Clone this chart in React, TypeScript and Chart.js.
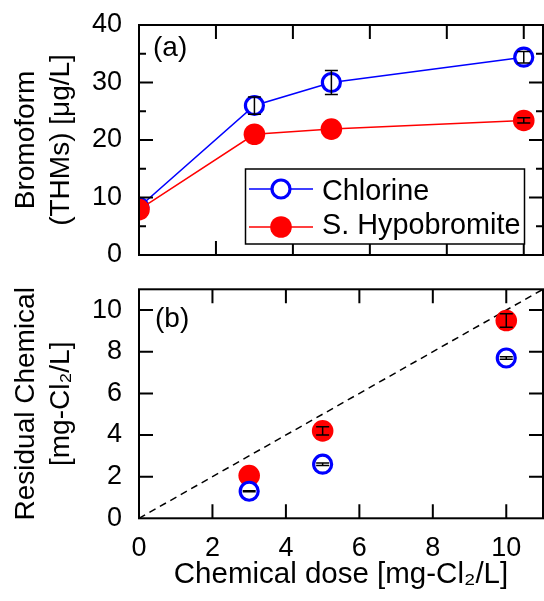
import React, { useEffect, useRef } from "react";
import { Chart, registerables } from "chart.js";

Chart.register(...registerables);

// ---------- data ----------
const seriesNames = ["Chlorine", "S. Hypobromite"];

const doseTHM = [0, 3, 5, 10];
const chlorineTHM = [8.3, 26, 30, 34.4];
const chlorineTHMErr = [0, 1.5, 2.1, 1.0];
const hypoTHM = [7.9, 21, 21.9, 23.4];
const hypoTHMErr = [0, 0, 0, 0.45];

const doseResidual = [3, 5, 10];
const chlorineResidual = [1.3, 2.6, 7.7];
const chlorineResidualErr = [0.02, 0.06, 0.06];
const hypoResidual = [2.05, 4.2, 9.5];
const hypoResidualErr = [0, 0.2, 0.32];

const oneToOne = [0, 11];

const xTicks = [0, 2, 4, 6, 8, 10];
const topYMajor = [0, 10, 20, 30, 40];
const topYMinor = [5, 15, 25, 35];
const bottomYTicks = [0, 2, 4, 6, 8, 10];

const topYTitle = ["Bromoform", "(THMs) [\u03bcg/L]"];
const bottomYTitle = ["Residual Chemical", "[mg-Cl\u2082/L]"];
const xTitle = "Chemical dose [mg-Cl\u2082/L]";

// ---------- styling ----------
const FONT = '"Liberation Sans", Arial, Helvetica, sans-serif';
const BLUE = "#0000ff";
const RED = "#ff0000";

type DecorCfg = {
  xMajor: number[];
  yMajor: number[];
  yMinor: number[];
  label: string;
  labelX: number;
  labelY: number;
  legend: boolean;
};

function makeDecor(cfg: DecorCfg) {
  return {
    id: "decor",
    afterDatasetsDraw(chart: any) {
      const ctx = chart.ctx as CanvasRenderingContext2D;
      const xs = chart.scales.x;
      const ys = chart.scales.y;
      const left = xs.left, right = xs.right, top = ys.top, bottom = ys.bottom;
      ctx.save();

      // error bars
      ctx.strokeStyle = "#000";
      ctx.lineWidth = 1.5;
      chart.data.datasets.forEach((ds: any, i: number) => {
        const errs = ds.errors;
        if (!errs) return;
        const meta = chart.getDatasetMeta(i);
        ds.data.forEach((p: any, j: number) => {
          const e = errs[j];
          if (!e) return;
          const x = meta.data[j].x;
          const y1 = ys.getPixelForValue(p.y - e);
          const y2 = ys.getPixelForValue(p.y + e);
          const c = 6.5;
          ctx.beginPath();
          ctx.moveTo(x, y1);
          ctx.lineTo(x, y2);
          ctx.moveTo(x - c, y1);
          ctx.lineTo(x + c, y1);
          ctx.moveTo(x - c, y2);
          ctx.lineTo(x + c, y2);
          ctx.stroke();
        });
      });

      // inner ticks
      ctx.strokeStyle = "#000";
      ctx.lineWidth = 2;
      const major = 14;
      const minor = 7;
      ctx.beginPath();
      cfg.xMajor.forEach((v) => {
        const px = xs.getPixelForValue(v);
        if (px <= left + 1 || px >= right - 1) return;
        ctx.moveTo(px, bottom);
        ctx.lineTo(px, bottom - major);
        ctx.moveTo(px, top);
        ctx.lineTo(px, top + major);
      });
      cfg.yMajor.forEach((v) => {
        const py = ys.getPixelForValue(v);
        if (py <= top + 1 || py >= bottom - 1) return;
        ctx.moveTo(left, py);
        ctx.lineTo(left + major, py);
        ctx.moveTo(right, py);
        ctx.lineTo(right - major, py);
      });
      cfg.yMinor.forEach((v) => {
        const py = ys.getPixelForValue(v);
        ctx.moveTo(left, py);
        ctx.lineTo(left + minor, py);
        ctx.moveTo(right, py);
        ctx.lineTo(right - minor, py);
      });
      ctx.stroke();

      // frame
      ctx.strokeRect(left, top, right - left, bottom - top);

      // panel label
      ctx.fillStyle = "#000";
      ctx.font = `28px ${FONT}`;
      ctx.textBaseline = "alphabetic";
      ctx.textAlign = "left";
      ctx.fillText(cfg.label, cfg.labelX, cfg.labelY);

      // legend
      if (cfg.legend) {
        const bx = 245.5, by = 169, bw = 279, bh = 75;
        ctx.fillStyle = "#fff";
        ctx.fillRect(bx, by, bw, bh);
        ctx.strokeStyle = "#000";
        ctx.lineWidth = 1.5;
        ctx.strokeRect(bx, by, bw, bh);
        const rows = [
          { name: seriesNames[0], color: BLUE, open: true, y: 189, base: 199.5 },
          { name: seriesNames[1], color: RED, open: false, y: 227, base: 234 },
        ];
        rows.forEach((r) => {
          ctx.strokeStyle = r.color;
          ctx.lineWidth = 1.5;
          ctx.beginPath();
          ctx.moveTo(249, r.y);
          ctx.lineTo(313, r.y);
          ctx.stroke();
          ctx.beginPath();
          if (r.open) {
            ctx.arc(281, r.y, 9, 0, Math.PI * 2);
            ctx.fillStyle = "#fff";
            ctx.fill();
            ctx.lineWidth = 3.2;
            ctx.stroke();
          } else {
            ctx.arc(281, r.y, 10.8, 0, Math.PI * 2);
            ctx.fillStyle = r.color;
            ctx.fill();
          }
          ctx.fillStyle = "#000";
          ctx.font = `28.8px ${FONT}`;
          ctx.fillText(r.name, 322, r.base);
        });
      }
      ctx.restore();
    },
  };
}

function pts(xs: number[], ys: number[]) {
  return xs.map((x, i) => ({ x, y: ys[i] }));
}

const tickFont = { family: FONT, size: 27 };
const titleFont = { family: FONT, size: 28, lineHeight: 1.25 };
const xTitleFont = { family: FONT, size: 29.5, lineHeight: 1.25 };

type Pad = { top: number; right: number; bottom: number; left: number };

const fitY = (s: any) => {
  s.width = 139;
  s.paddingTop = 0;
  s.paddingBottom = 0;
};

function topConfig(pad: Pad): any {
  return {
    type: "scatter",
    data: {
      datasets: [
        {
          label: seriesNames[0],
          data: pts(doseTHM, chlorineTHM),
          showLine: true,
          borderColor: BLUE,
          borderWidth: 1.5,
          pointRadius: 9,
          pointBorderWidth: 3.2,
          pointBackgroundColor: "#fff",
          pointBorderColor: BLUE,
          order: 1,
          clip: 0,
          errors: chlorineTHMErr,
        },
        {
          label: seriesNames[1],
          data: pts(doseTHM, hypoTHM),
          showLine: true,
          borderColor: RED,
          borderWidth: 1.5,
          pointRadius: 10.8,
          pointBorderWidth: 0,
          pointBackgroundColor: RED,
          pointBorderColor: RED,
          order: 0,
          clip: 0,
          errors: hypoTHMErr,
        },
      ],
    },
    options: {
      animation: false,
      responsive: false,
      maintainAspectRatio: false,
      events: [],
      layout: { autoPadding: false, padding: pad },
      scales: {
        x: { type: "linear", min: 0, max: 10.5, display: false },
        y: {
          type: "linear",
          min: 0,
          max: 40,
          afterBuildTicks: (s: any) => {
            s.ticks = topYMajor.map((v) => ({ value: v }));
          },
          afterFit: fitY,
          grid: { display: false, drawTicks: false },
          border: { display: false },
          ticks: { font: tickFont, color: "#000", padding: 17 },
          title: {
            display: true,
            text: topYTitle,
            font: titleFont,
            color: "#000",
            padding: { top: 9, bottom: 0 },
          },
        },
      },
      plugins: { legend: { display: false }, tooltip: { enabled: false } },
    },
    plugins: [
      makeDecor({
        xMajor: xTicks,
        yMajor: topYMajor,
        yMinor: topYMinor,
        label: "(a)",
        labelX: 153,
        labelY: 56,
        legend: true,
      }),
    ],
  };
}

function bottomConfig(pad: Pad): any {
  return {
    type: "scatter",
    data: {
      datasets: [
        {
          label: seriesNames[0],
          data: pts(doseResidual, chlorineResidual),
          showLine: false,
          pointRadius: 9,
          pointBorderWidth: 3.2,
          pointBackgroundColor: "#fff",
          pointBorderColor: BLUE,
          order: 0,
          clip: 0,
          errors: chlorineResidualErr,
        },
        {
          label: seriesNames[1],
          data: pts(doseResidual, hypoResidual),
          showLine: false,
          pointRadius: 10.8,
          pointBorderWidth: 0,
          pointBackgroundColor: RED,
          pointBorderColor: RED,
          order: 1,
          clip: 0,
          errors: hypoResidualErr,
        },
        {
          label: "1:1",
          data: pts(oneToOne, oneToOne),
          showLine: true,
          borderColor: "#000",
          borderWidth: 1.5,
          borderDash: [7, 5],
          pointRadius: 0,
          order: 2,
          clip: 0,
        },
      ],
    },
    options: {
      animation: false,
      responsive: false,
      maintainAspectRatio: false,
      events: [],
      layout: { autoPadding: false, padding: pad },
      scales: {
        x: {
          type: "linear",
          min: 0,
          max: 11,
          afterBuildTicks: (s: any) => {
            s.ticks = xTicks.map((v) => ({ value: v }));
          },
          afterFit: (s: any) => {
            s.height = 83;
            s.paddingLeft = 0;
            s.paddingRight = 0;
          },
          grid: { display: false, drawTicks: false },
          border: { display: false },
          ticks: { font: tickFont, color: "#000", padding: 14, maxRotation: 0 },
          title: {
            display: true,
            text: xTitle,
            font: xTitleFont,
            color: "#000",
            padding: { top: 0, bottom: 8 },
          },
        },
        y: {
          type: "linear",
          min: 0,
          max: 11,
          afterBuildTicks: (s: any) => {
            s.ticks = bottomYTicks.map((v) => ({ value: v }));
          },
          afterFit: fitY,
          grid: { display: false, drawTicks: false },
          border: { display: false },
          ticks: { font: tickFont, color: "#000", padding: 17 },
          title: {
            display: true,
            text: bottomYTitle,
            font: titleFont,
            color: "#000",
            padding: { top: 9, bottom: 0 },
          },
        },
      },
      plugins: { legend: { display: false }, tooltip: { enabled: false } },
    },
    plugins: [
      makeDecor({
        xMajor: xTicks,
        yMajor: bottomYTicks,
        yMinor: [],
        label: "(b)",
        labelX: 155,
        labelY: 57,
        legend: false,
      }),
    ],
  };
}

// build a chart, then rebuild with corrected padding if the plot area is off
function buildFitted(
  canvas: HTMLCanvasElement,
  make: (p: Pad) => any,
  want: { top: number; right: number; bottom: number }
) {
  const pad: Pad = { top: want.top, right: canvas.width - want.right, bottom: canvas.height - want.bottom, left: 0 };
  let chart = new Chart(canvas, make({ ...pad }));
  for (let k = 0; k < 3; k++) {
    const ca = chart.chartArea;
    const dt = want.top - ca.top;
    const db = ca.bottom - want.bottom;
    const dr = ca.right - want.right;
    if (Math.abs(dt) < 0.2 && Math.abs(db) < 0.2 && Math.abs(dr) < 0.2) break;
    pad.top += dt;
    pad.bottom += db;
    pad.right += dr;
    chart.destroy();
    chart = new Chart(canvas, make({ ...pad }));
  }
  return chart;
}

export default function App() {
  const topRef = useRef<HTMLCanvasElement>(null);
  const botRef = useRef<HTMLCanvasElement>(null);

  useEffect(() => {
    const top = buildFitted(topRef.current as HTMLCanvasElement, topConfig, {
      top: 25,
      right: 543,
      bottom: 255,
    });
    const bot = buildFitted(botRef.current as HTMLCanvasElement, bottomConfig, {
      top: 19.3,
      right: 543,
      bottom: 248.3,
    });
    return () => {
      top.destroy();
      bot.destroy();
    };
  }, []);

  return (
    <div
      style={{
        position: "absolute",
        left: 0,
        top: 0,
        width: 544,
        height: 601,
        background: "#fff",
        overflow: "hidden",
      }}
    >
      <canvas
        ref={topRef}
        width={544}
        height={270}
        style={{ position: "absolute", left: 0, top: 0, width: 544, height: 270 }}
      />
      <canvas
        ref={botRef}
        width={544}
        height={331}
        style={{ position: "absolute", left: 0, top: 270, width: 544, height: 331 }}
      />
    </div>
  );
}
